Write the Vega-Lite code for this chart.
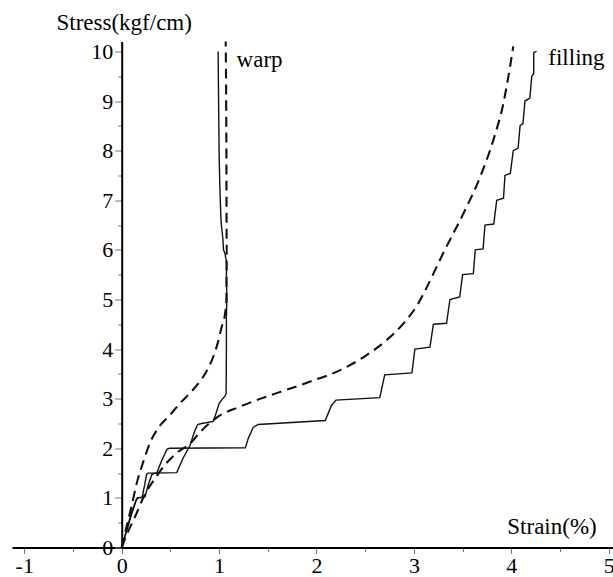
{
  "$schema": "https://vega.github.io/schema/vega-lite/v6.json",
  "width": 601,
  "height": 506,
  "autosize": {"type": "none"},
  "padding": {"left": 12, "top": 41.5, "right": 0, "bottom": 29.5},
  "background": "white",
  "config": {"font": "Liberation Serif", "view": {"stroke": null}},
  "datasets": {
    "curves": [
      {"series": "warp_test", "style": "solid", "i": 0, "strain": 0, "stress": 0},
      {"series": "warp_test", "style": "solid", "i": 1, "strain": 0.05, "stress": 0.33},
      {"series": "warp_test", "style": "solid", "i": 2, "strain": 0.1, "stress": 0.66},
      {"series": "warp_test", "style": "solid", "i": 3, "strain": 0.15, "stress": 0.95},
      {"series": "warp_test", "style": "solid", "i": 4, "strain": 0.16, "stress": 1.0},
      {"series": "warp_test", "style": "solid", "i": 5, "strain": 0.24, "stress": 1.02},
      {"series": "warp_test", "style": "solid", "i": 6, "strain": 0.27, "stress": 1.25},
      {"series": "warp_test", "style": "solid", "i": 7, "strain": 0.31, "stress": 1.47},
      {"series": "warp_test", "style": "solid", "i": 8, "strain": 0.34, "stress": 1.5},
      {"series": "warp_test", "style": "solid", "i": 9, "strain": 0.565, "stress": 1.51},
      {"series": "warp_test", "style": "solid", "i": 10, "strain": 0.63, "stress": 1.8},
      {"series": "warp_test", "style": "solid", "i": 11, "strain": 0.7, "stress": 2.05},
      {"series": "warp_test", "style": "solid", "i": 12, "strain": 0.75, "stress": 2.35},
      {"series": "warp_test", "style": "solid", "i": 13, "strain": 0.78, "stress": 2.48},
      {"series": "warp_test", "style": "solid", "i": 14, "strain": 0.82, "stress": 2.5},
      {"series": "warp_test", "style": "solid", "i": 15, "strain": 0.94, "stress": 2.54},
      {"series": "warp_test", "style": "solid", "i": 16, "strain": 0.96, "stress": 2.65},
      {"series": "warp_test", "style": "solid", "i": 17, "strain": 1.0, "stress": 2.9},
      {"series": "warp_test", "style": "solid", "i": 18, "strain": 1.03, "stress": 2.98},
      {"series": "warp_test", "style": "solid", "i": 19, "strain": 1.06, "stress": 3.05},
      {"series": "warp_test", "style": "solid", "i": 20, "strain": 1.072, "stress": 3.1},
      {"series": "warp_test", "style": "solid", "i": 21, "strain": 1.075, "stress": 4.0},
      {"series": "warp_test", "style": "solid", "i": 22, "strain": 1.075, "stress": 4.65},
      {"series": "warp_test", "style": "solid", "i": 23, "strain": 1.08, "stress": 5.0},
      {"series": "warp_test", "style": "solid", "i": 24, "strain": 1.075, "stress": 5.5},
      {"series": "warp_test", "style": "solid", "i": 25, "strain": 1.078, "stress": 5.73},
      {"series": "warp_test", "style": "solid", "i": 26, "strain": 1.06, "stress": 5.93},
      {"series": "warp_test", "style": "solid", "i": 27, "strain": 1.045, "stress": 6.0},
      {"series": "warp_test", "style": "solid", "i": 28, "strain": 1.04, "stress": 6.2},
      {"series": "warp_test", "style": "solid", "i": 29, "strain": 1.026, "stress": 6.46},
      {"series": "warp_test", "style": "solid", "i": 30, "strain": 1.02, "stress": 6.6},
      {"series": "warp_test", "style": "solid", "i": 31, "strain": 1.012, "stress": 7.0},
      {"series": "warp_test", "style": "solid", "i": 32, "strain": 1.005, "stress": 7.5},
      {"series": "warp_test", "style": "solid", "i": 33, "strain": 1.0, "stress": 8.0},
      {"series": "warp_test", "style": "solid", "i": 34, "strain": 0.995, "stress": 9.0},
      {"series": "warp_test", "style": "solid", "i": 35, "strain": 0.99, "stress": 10.0},

      {"series": "fill_test", "style": "solid", "i": 0, "strain": 0, "stress": 0},
      {"series": "fill_test", "style": "solid", "i": 1, "strain": 0.05, "stress": 0.35},
      {"series": "fill_test", "style": "solid", "i": 2, "strain": 0.1, "stress": 0.7},
      {"series": "fill_test", "style": "solid", "i": 3, "strain": 0.15, "stress": 0.97},
      {"series": "fill_test", "style": "solid", "i": 4, "strain": 0.17, "stress": 1.0},
      {"series": "fill_test", "style": "solid", "i": 5, "strain": 0.21, "stress": 1.01},
      {"series": "fill_test", "style": "solid", "i": 6, "strain": 0.235, "stress": 1.25},
      {"series": "fill_test", "style": "solid", "i": 7, "strain": 0.255, "stress": 1.47},
      {"series": "fill_test", "style": "solid", "i": 8, "strain": 0.27, "stress": 1.5},
      {"series": "fill_test", "style": "solid", "i": 9, "strain": 0.36, "stress": 1.5},
      {"series": "fill_test", "style": "solid", "i": 10, "strain": 0.41, "stress": 1.75},
      {"series": "fill_test", "style": "solid", "i": 11, "strain": 0.465, "stress": 1.98},
      {"series": "fill_test", "style": "solid", "i": 12, "strain": 0.49, "stress": 2.0},
      {"series": "fill_test", "style": "solid", "i": 13, "strain": 1.27, "stress": 2.01},
      {"series": "fill_test", "style": "solid", "i": 14, "strain": 1.3, "stress": 2.2},
      {"series": "fill_test", "style": "solid", "i": 15, "strain": 1.35, "stress": 2.42},
      {"series": "fill_test", "style": "solid", "i": 16, "strain": 1.4, "stress": 2.48},
      {"series": "fill_test", "style": "solid", "i": 17, "strain": 2.09, "stress": 2.56},
      {"series": "fill_test", "style": "solid", "i": 18, "strain": 2.15, "stress": 2.85},
      {"series": "fill_test", "style": "solid", "i": 19, "strain": 2.2, "stress": 2.97},
      {"series": "fill_test", "style": "solid", "i": 20, "strain": 2.65, "stress": 3.02},
      {"series": "fill_test", "style": "solid", "i": 21, "strain": 2.7, "stress": 3.48},
      {"series": "fill_test", "style": "solid", "i": 22, "strain": 2.98, "stress": 3.52},
      {"series": "fill_test", "style": "solid", "i": 23, "strain": 3.01, "stress": 4.0},
      {"series": "fill_test", "style": "solid", "i": 24, "strain": 3.165, "stress": 4.04},
      {"series": "fill_test", "style": "solid", "i": 25, "strain": 3.2, "stress": 4.5},
      {"series": "fill_test", "style": "solid", "i": 26, "strain": 3.335, "stress": 4.52},
      {"series": "fill_test", "style": "solid", "i": 27, "strain": 3.37, "stress": 5.0},
      {"series": "fill_test", "style": "solid", "i": 28, "strain": 3.47, "stress": 5.05},
      {"series": "fill_test", "style": "solid", "i": 29, "strain": 3.5, "stress": 5.5},
      {"series": "fill_test", "style": "solid", "i": 30, "strain": 3.61, "stress": 5.52},
      {"series": "fill_test", "style": "solid", "i": 31, "strain": 3.63, "stress": 6.0},
      {"series": "fill_test", "style": "solid", "i": 32, "strain": 3.71, "stress": 6.02},
      {"series": "fill_test", "style": "solid", "i": 33, "strain": 3.73, "stress": 6.5},
      {"series": "fill_test", "style": "solid", "i": 34, "strain": 3.82, "stress": 6.52},
      {"series": "fill_test", "style": "solid", "i": 35, "strain": 3.85, "stress": 7.0},
      {"series": "fill_test", "style": "solid", "i": 36, "strain": 3.92, "stress": 7.04},
      {"series": "fill_test", "style": "solid", "i": 37, "strain": 3.935, "stress": 7.5},
      {"series": "fill_test", "style": "solid", "i": 38, "strain": 3.99, "stress": 7.54},
      {"series": "fill_test", "style": "solid", "i": 39, "strain": 4.02, "stress": 8.0},
      {"series": "fill_test", "style": "solid", "i": 40, "strain": 4.07, "stress": 8.05},
      {"series": "fill_test", "style": "solid", "i": 41, "strain": 4.09, "stress": 8.5},
      {"series": "fill_test", "style": "solid", "i": 42, "strain": 4.12, "stress": 8.55},
      {"series": "fill_test", "style": "solid", "i": 43, "strain": 4.14, "stress": 9.0},
      {"series": "fill_test", "style": "solid", "i": 44, "strain": 4.19, "stress": 9.06},
      {"series": "fill_test", "style": "solid", "i": 45, "strain": 4.21, "stress": 9.5},
      {"series": "fill_test", "style": "solid", "i": 46, "strain": 4.23, "stress": 9.55},
      {"series": "fill_test", "style": "solid", "i": 47, "strain": 4.23, "stress": 9.98},
      {"series": "fill_test", "style": "solid", "i": 48, "strain": 4.26, "stress": 10.0},

      {"series": "warp_model", "style": "dashed", "i": 0, "strain": 0, "stress": 0},
      {"series": "warp_model", "style": "dashed", "i": 1, "strain": 0.05, "stress": 0.42},
      {"series": "warp_model", "style": "dashed", "i": 2, "strain": 0.1, "stress": 0.82},
      {"series": "warp_model", "style": "dashed", "i": 3, "strain": 0.154, "stress": 1.29},
      {"series": "warp_model", "style": "dashed", "i": 4, "strain": 0.222, "stress": 1.73},
      {"series": "warp_model", "style": "dashed", "i": 5, "strain": 0.3, "stress": 2.15},
      {"series": "warp_model", "style": "dashed", "i": 6, "strain": 0.38, "stress": 2.42},
      {"series": "warp_model", "style": "dashed", "i": 7, "strain": 0.496, "stress": 2.67},
      {"series": "warp_model", "style": "dashed", "i": 8, "strain": 0.6, "stress": 2.91},
      {"series": "warp_model", "style": "dashed", "i": 9, "strain": 0.7, "stress": 3.11},
      {"series": "warp_model", "style": "dashed", "i": 10, "strain": 0.8, "stress": 3.34},
      {"series": "warp_model", "style": "dashed", "i": 11, "strain": 0.87, "stress": 3.55},
      {"series": "warp_model", "style": "dashed", "i": 12, "strain": 0.941, "stress": 3.85},
      {"series": "warp_model", "style": "dashed", "i": 13, "strain": 0.99, "stress": 4.15},
      {"series": "warp_model", "style": "dashed", "i": 14, "strain": 1.027, "stress": 4.45},
      {"series": "warp_model", "style": "dashed", "i": 15, "strain": 1.06, "stress": 4.7},
      {"series": "warp_model", "style": "dashed", "i": 16, "strain": 1.075, "stress": 5.0},
      {"series": "warp_model", "style": "dashed", "i": 17, "strain": 1.078, "stress": 6.0},
      {"series": "warp_model", "style": "dashed", "i": 18, "strain": 1.075, "stress": 8.0},
      {"series": "warp_model", "style": "dashed", "i": 19, "strain": 1.068, "stress": 10.2},

      {"series": "fill_model", "style": "dashed", "i": 0, "strain": 0, "stress": 0},
      {"series": "fill_model", "style": "dashed", "i": 1, "strain": 0.05, "stress": 0.25},
      {"series": "fill_model", "style": "dashed", "i": 2, "strain": 0.137, "stress": 0.62},
      {"series": "fill_model", "style": "dashed", "i": 3, "strain": 0.243, "stress": 1.09},
      {"series": "fill_model", "style": "dashed", "i": 4, "strain": 0.345, "stress": 1.4},
      {"series": "fill_model", "style": "dashed", "i": 5, "strain": 0.45, "stress": 1.68},
      {"series": "fill_model", "style": "dashed", "i": 6, "strain": 0.58, "stress": 1.93},
      {"series": "fill_model", "style": "dashed", "i": 7, "strain": 0.705, "stress": 2.1},
      {"series": "fill_model", "style": "dashed", "i": 8, "strain": 0.807, "stress": 2.33},
      {"series": "fill_model", "style": "dashed", "i": 9, "strain": 0.975, "stress": 2.62},
      {"series": "fill_model", "style": "dashed", "i": 10, "strain": 1.215, "stress": 2.84},
      {"series": "fill_model", "style": "dashed", "i": 11, "strain": 1.455, "stress": 3.02},
      {"series": "fill_model", "style": "dashed", "i": 12, "strain": 1.694, "stress": 3.18},
      {"series": "fill_model", "style": "dashed", "i": 13, "strain": 1.93, "stress": 3.34},
      {"series": "fill_model", "style": "dashed", "i": 14, "strain": 2.28, "stress": 3.61},
      {"series": "fill_model", "style": "dashed", "i": 15, "strain": 2.515, "stress": 3.88},
      {"series": "fill_model", "style": "dashed", "i": 16, "strain": 2.72, "stress": 4.18},
      {"series": "fill_model", "style": "dashed", "i": 17, "strain": 2.925, "stress": 4.59},
      {"series": "fill_model", "style": "dashed", "i": 18, "strain": 3.045, "stress": 4.92},
      {"series": "fill_model", "style": "dashed", "i": 19, "strain": 3.1, "stress": 5.12},
      {"series": "fill_model", "style": "dashed", "i": 20, "strain": 3.3, "stress": 5.93},
      {"series": "fill_model", "style": "dashed", "i": 21, "strain": 3.51, "stress": 6.74},
      {"series": "fill_model", "style": "dashed", "i": 22, "strain": 3.68, "stress": 7.47},
      {"series": "fill_model", "style": "dashed", "i": 23, "strain": 3.815, "stress": 8.21},
      {"series": "fill_model", "style": "dashed", "i": 24, "strain": 3.918, "stress": 8.95},
      {"series": "fill_model", "style": "dashed", "i": 25, "strain": 3.987, "stress": 9.69},
      {"series": "fill_model", "style": "dashed", "i": 26, "strain": 4.02, "stress": 10.1}
    ],
    "notes": [
      {"strain": 1.18, "stress": 9.69, "label": "warp"},
      {"strain": 4.38, "stress": 9.73, "label": "filling"}
    ]
  },
  "encoding": {
    "x": {
      "field": "strain",
      "type": "quantitative",
      "scale": {"domain": [-1.126, 5.044], "nice": false, "zero": false},
      "axis": {
        "title": "Strain(%)",
        "values": [-1, -0.5, 0, 0.5, 1, 1.5, 2, 2.5, 3, 3.5, 4, 4.5, 5],
        "labelExpr": "datum.value % 1 === 0 ? '' + datum.value : ''",
        "grid": false,
        "domainColor": "black",
        "domainWidth": 2,
        "tickColor": "#777777",
        "tickWidth": 1,
        "tickSize": {"condition": {"test": "datum.value % 1 === 0", "value": 6}, "value": 4},
        "labelFont": "Liberation Serif",
        "labelFontSize": 22,
        "labelColor": "black",
        "labelPadding": 2,
        "labelFlush": false,
        "labelOverlap": false,
        "titleFont": "Liberation Serif",
        "titleFontSize": 23,
        "titleFontWeight": "normal",
        "titleColor": "black",
        "titleX": 539.5,
        "titleY": -14.5,
        "titleAlign": "center",
        "titleBaseline": "alphabetic"
      }
    },
    "y": {
      "field": "stress",
      "type": "quantitative",
      "scale": {"domain": [0, 10.2], "nice": false},
      "axis": {
        "title": "Stress(kgf/cm)",
        "offset": -109.7,
        "values": [0, 0.5, 1, 1.5, 2, 2.5, 3, 3.5, 4, 4.5, 5, 5.5, 6, 6.5, 7, 7.5, 8, 8.5, 9, 9.5, 10],
        "labelExpr": "datum.value % 1 === 0 ? '' + datum.value : ''",
        "grid": false,
        "domainColor": "black",
        "domainWidth": 2,
        "tickColor": "#777777",
        "tickWidth": 1,
        "tickSize": {"condition": {"test": "datum.value % 1 === 0", "value": 7}, "value": 4},
        "labelFont": "Liberation Serif",
        "labelFontSize": 22,
        "labelColor": "black",
        "labelPadding": 2,
        "labelFlush": false,
        "labelOverlap": false,
        "titleFont": "Liberation Serif",
        "titleFontSize": 23,
        "titleFontWeight": "normal",
        "titleColor": "black",
        "titleAngle": 0,
        "titleX": 2,
        "titleY": -12.5,
        "titleAlign": "center",
        "titleBaseline": "alphabetic"
      }
    }
  },
  "layer": [
    {
      "data": {"name": "curves"},
      "transform": [{"filter": "datum.style === 'solid'"}],
      "mark": {"type": "line", "color": "#111111", "strokeWidth": 1.4, "strokeJoin": "miter"},
      "encoding": {"detail": {"field": "series"}, "order": {"field": "i", "type": "quantitative"}}
    },
    {
      "data": {"name": "curves"},
      "transform": [{"filter": "datum.style === 'dashed'"}],
      "mark": {"type": "line", "color": "#111111", "strokeWidth": 2.1, "strokeDash": [10, 6], "interpolate": "monotone"},
      "encoding": {"detail": {"field": "series"}, "order": {"field": "i", "type": "quantitative"}}
    },
    {
      "data": {"name": "notes"},
      "mark": {"type": "text", "align": "left", "baseline": "alphabetic", "font": "Liberation Serif", "fontSize": 23, "color": "black"},
      "encoding": {"text": {"field": "label"}}
    }
  ]
}
